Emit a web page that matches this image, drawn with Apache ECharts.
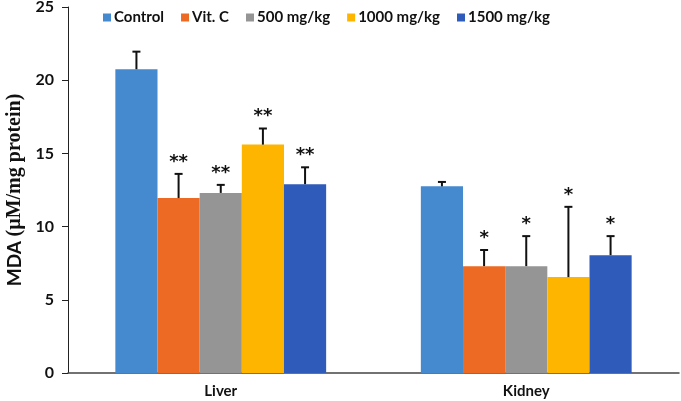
<!DOCTYPE html>
<html><head><meta charset="utf-8">
<script src="https://cdn.jsdelivr.net/npm/echarts@6/dist/echarts.min.js"></script>
<style>html,body{margin:0;padding:0;background:#fff}#c{width:681px;height:401px}</style>
</head><body><div id="c"></div>
<script>
var categories = ['Liver', 'Kidney'];
var seriesNames = ['Control', 'Vit. C', '500 mg/kg', '1000 mg/kg', '1500 mg/kg'];
var colors = ['#4589CF', '#EC6A24', '#959595', '#FDB500', '#2F5BBA'];
var controlVals = [20.75, 12.75];
var vitCVals = [11.95, 7.3];
var mg500Vals = [12.3, 7.3];
var mg1000Vals = [15.6, 6.55];
var mg1500Vals = [12.9, 8.05];
var controlErr = [1.2, 0.3];
var vitCErr = [1.65, 1.1];
var mg500Err = [0.55, 2.05];
var mg1000Err = [1.1, 4.8];
var mg1500Err = [1.15, 1.3];
var marks = ['**', '*'];
var yTicks = {min: 0, max: 25, interval: 5};

var values = [controlVals, vitCVals, mg500Vals, mg1000Vals, mg1500Vals];
var errs = [controlErr, vitCErr, mg500Err, mg1000Err, mg1500Err];
var nS = seriesNames.length;
var catGap = 0.31;
var fontSans = 'Lato, "Open Sans", sans-serif';

var series = [];
seriesNames.forEach(function (name, i) {
  series.push({
    name: name, type: 'bar', data: values[i], barGap: '0%', barCategoryGap: (catGap * 100) + '%',
    itemStyle: {color: colors[i]}, z: 2
  });
});
seriesNames.forEach(function (name, i) {
  var data = categories.map(function (c, k) { return [k, values[i][k], values[i][k] + errs[i][k]]; });
  series.push({
    type: 'custom', name: name + '_err', z: 5, silent: true,
    encode: {x: 0, y: [1, 2]},
    data: data,
    renderItem: function (params, api) {
      var k = api.value(0);
      var band = api.size([1, 0])[0];
      var bw = band * (1 - catGap) / nS;
      var base = api.coord([k, api.value(1)]);
      var top = api.coord([k, api.value(2)]);
      var x = base[0] + (i - (nS - 1) / 2) * bw;
      var children = [
        {type: 'line', shape: {x1: x, y1: base[1], x2: x, y2: top[1]}, style: {stroke: '#111', lineWidth: 2}},
        {type: 'line', shape: {x1: x - 4, y1: top[1], x2: x + 4, y2: top[1]}, style: {stroke: '#111', lineWidth: 2}}
      ];
      if (i > 0) {
        children.push({type: 'text', x: x, y: top[1] - 21, style: {
          text: marks[k], fill: '#111', font: 'bold 18px "DejaVu Sans"', align: 'center', verticalAlign: 'top'}});
      }
      return {type: 'group', children: children};
    }
  });
});

var chart = echarts.init(document.getElementById('c'));
chart.setOption({
  animation: false,
  backgroundColor: '#fff',
  grid: {left: 68, right: 2, top: 7, bottom: 28, containLabel: false, outerBoundsMode: 'none'},
  legend: {
    data: seriesNames, top: 5, left: 98, itemWidth: 8, itemHeight: 8, icon: 'rect', itemGap: 17,
    textStyle: {fontFamily: fontSans, fontWeight: 'bold', fontSize: 15, color: '#111', padding: [0, 0, 0, -2]}
  },
  xAxis: {
    type: 'category', data: categories,
    axisLine: {lineStyle: {color: '#444', width: 1.5}},
    axisTick: {show: false},
    axisLabel: {fontFamily: fontSans, fontWeight: 'bold', fontSize: 15, color: '#111', margin: 11}
  },
  yAxis: {
    type: 'value', min: yTicks.min, max: yTicks.max, interval: yTicks.interval,
    name: '{a|MDA }{b|(µM/mg protein)}', nameLocation: 'middle', nameGap: 42, nameRotate: 90,
    nameTextStyle: {verticalAlign: 'middle', rich: {
      a: {fontFamily: fontSans, fontWeight: 'bold', fontSize: 19, color: '#111'},
      b: {fontFamily: '"Liberation Serif", "DejaVu Serif", serif', fontWeight: 'bold', fontSize: 20, color: '#111'}
    }},
    axisLine: {show: true, lineStyle: {color: '#222', width: 1}},
    axisTick: {show: true, length: 6, lineStyle: {color: '#222'}},
    splitLine: {show: false},
    axisLabel: {fontFamily: fontSans, fontWeight: 'bold', fontSize: 16, color: '#111', margin: 14}
  },
  series: series
});
</script></body></html>
